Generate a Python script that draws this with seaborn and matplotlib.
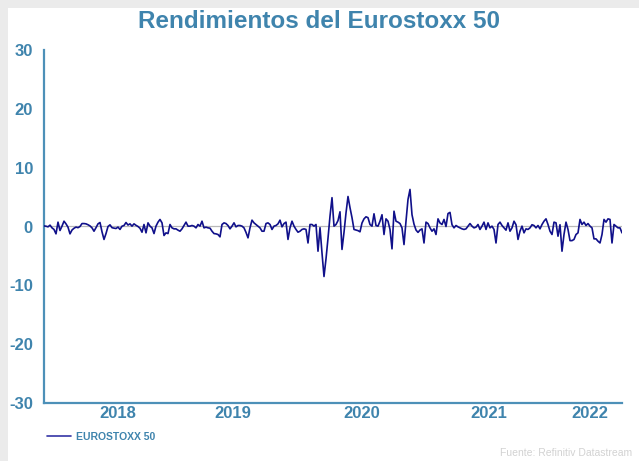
import matplotlib
matplotlib.use("Agg")
import matplotlib.pyplot as plt
import seaborn as sns
import pandas as pd
import numpy as np
from matplotlib.patches import Rectangle

# ---- data ----
serie = "EUROSTOXX 50"
rend_a = [0.1, 0.05, -0.06, 0.23, -0.23, -0.5, -1.25, 0.74, -0.68, 0.06,
          0.9, 0.45, -0.11, -1.25, -0.6, -0.3, -0.1, -0.2, 0.0, 0.5,
          0.5, 0.45, 0.3, 0.1, -0.23, -0.8, -0.2, 0.45, 0.68, -0.9,
          -2.2, -1.2, 0.0, 0.28, -0.2, -0.28, -0.34, -0.1, -0.5, 0.05,
          0.17, 0.68, 0.25, 0.45, 0.06, 0.45, 0.2, 0.0, -0.3, -0.97]
rend_b = [0.34, -1.08, 0.62, 0.06, -0.23, -1.2, 0.06, 0.74, 1.2, 0.62,
          -1.53, -1.08, -1.2, 0.34, -0.23, -0.4, -0.4, -0.62, -0.8, -0.4,
          0.17, 0.74, 0.06, 0.06, 0.17, 0.06, -0.23, 0.34, 0.06, 0.9,
          -0.23, -0.11, -0.23, -0.28, -0.8, -1.2, -1.25, -1.36, -1.76, 0.34,
          0.62, 0.5, 0.17, -0.4, 0.06, 0.62, -0.06, 0.17]
rend_c = [0.17, 0.06, -0.23, -1.0, -1.93, -0.23, 1.08, 0.62, 0.34, 0.06,
          -0.23, -0.8, -0.8, 0.5, 0.62, 0.34, -0.5, 0.06, 0.17, 0.45,
          1.08, -0.06, 0.5, 0.74, -2.2, -0.23, 0.9, 0.06, -0.5, -0.97,
          -0.8, -0.5, -0.4, -0.5, -2.8, 0.34, 0.34, 0.06, 0.34, -4.2,
          -0.2, -4.5, -8.5, -5.5, -2.0, 1.75, 4.9, 0.06, 0.34]
rend_d = [1.0, 2.5, -3.9, -1.0, 2.3, 5.1, 3.2, 1.5, -0.5, -0.6,
          -0.7, -0.9, 0.6, 1.3, 1.65, 1.5, 0.34, 0.06, 2.16, 0.17,
          0.06, 0.9, 2.0, -1.36, 1.3, 0.9, -0.5, -3.8, 2.6, 0.9,
          0.74, 0.5, -0.23, -3.07, 0.9, 4.6, 6.3, 2.0, 0.4, -0.6,
          -1.0, -0.6, -0.4, -2.8, 0.74, 0.5, -0.23, -0.8, -0.4, -1.36]
rend_e = [1.3, 0.6, 0.34, 1.2, 0.0, 2.2, 2.4, 0.3, -0.23, 0.17,
          -0.06, -0.23, -0.4, -0.5, -0.4, 0.06, 0.5, 0.06, -0.23, -0.11,
          0.34, -0.5, 0.06, 0.74, -0.5, 0.62, -0.23, 0.06, -0.5, -2.8,
          0.34, 0.74, 0.17, -0.23, -0.62, 0.62, -0.8, -0.23, 0.9, 0.3,
          -2.2, -0.8, 0.06, -1.08, -0.4, -0.5, -0.23, 0.3, 0.17, -0.23,
          0.17, -0.4, 0.34, 0.9, 1.3, 0.34, -0.8, -1.36, 0.74, 0.62,
          -1.65, 0.3, -4.2, -1.36, 0.74, -0.5, -2.4, -2.4, -2.2, -1.36,
          -1.08, 1.2, 0.34, 0.74, 0.17, 0.5, 0.06, -0.23, -2.1, -2.1,
          -2.5, -2.8, -1.36, 1.2, 0.74, 1.3, 1.2, -2.8, 0.34, 0.06,
          -0.23, -0.23, -1.08]
rendimientos = rend_a + rend_b + rend_c + rend_d + rend_e

year_labels = ["2018", "2019", "2020", "2021", "2022"]
year_pos = [37, 94.5, 159, 222.5, 273]   # observation index of each label
y_ticks = [-30, -20, -10, 0, 10, 20, 30]

df = pd.DataFrame({"obs": np.arange(len(rendimientos)), "rend": rendimientos, "serie": serie})

# ---- style ----
sns.set_theme(style="white")
plt.rcParams["font.family"] = ["Liberation Sans", "DejaVu Sans"]

BLUE = "#3f84ad"
SPINE = "#4d90b8"
LINE = "#10108a"

W, H = 639, 461
fig = plt.figure(figsize=(W / 100, H / 100), dpi=100)
fig.patch.set_facecolor("#ebebeb")
fig.patches.append(Rectangle((8 / W, 0), 1 - 8 / W, 1 - 8 / H, transform=fig.transFigure,
                             facecolor="white", edgecolor="none", zorder=-10))

ax = fig.add_axes([44 / W, 1 - 403 / H, (622 - 44) / W, (403 - 50) / H])
ax.set_facecolor("none")
ax.set_zorder(2)

ax.axhline(0, color="#b8b8b8", lw=0.9, zorder=1)
sns.lineplot(data=df, x="obs", y="rend", hue="serie", palette=[LINE], lw=1.2, ax=ax, zorder=3)

ax.set_xlim(0, len(rendimientos) - 1)
ax.set_ylim(-30, 30)
ax.set_yticks(y_ticks)
ax.set_yticklabels([str(t) for t in y_ticks])
ax.set_xticks(year_pos)
ax.set_xticklabels(year_labels)
ax.tick_params(axis="both", length=0, labelsize=12, labelcolor=BLUE)
ax.tick_params(axis="y", pad=8)
ax.tick_params(axis="x", pad=2)
for lab in ax.get_xticklabels() + ax.get_yticklabels():
    lab.set_fontweight("bold")
ax.set_xlabel("")
ax.set_ylabel("")
for s in ["top", "right"]:
    ax.spines[s].set_visible(False)
for s in ["left", "bottom"]:
    ax.spines[s].set_color(SPINE)
    ax.spines[s].set_linewidth(1.6)

fig.text(0.5, 1 - 22 / H, "Rendimientos del Eurostoxx 50", ha="center", va="center",
         fontsize=17.5, fontweight="bold", color=BLUE)

leg = ax.legend(loc="center left", bbox_to_anchor=(47 / W, 1 - 437 / H),
                bbox_transform=fig.transFigure, frameon=False, handlelength=2.3,
                handletextpad=0.45, borderpad=0, borderaxespad=0,
                prop={"size": 7.5, "weight": "bold"})
for t in leg.get_texts():
    t.set_color(BLUE)
for l in leg.get_lines():
    l.set_color("#3535a5")
    l.set_linewidth(1.2)

fig.text(632 / W, 1 - 453 / H, "Fuente: Refinitiv Datastream", ha="right", va="center",
         fontsize=7.5, color="#d2d2d2")

fig.savefig("out.png", dpi=100, facecolor=fig.get_facecolor())
